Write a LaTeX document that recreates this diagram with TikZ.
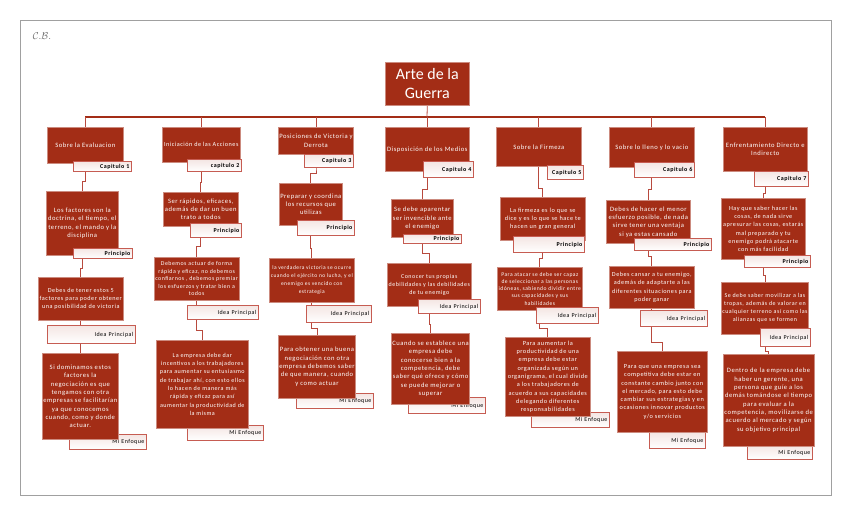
\documentclass[tikz,border=0pt]{standalone}
\usepackage{fontspec}
\setmainfont{Carlito}[LetterSpace=8]
\newfontfamily\titlefont{Carlito}
\usetikzlibrary{backgrounds}
\definecolor{brick}{RGB}{163,45,22}
\definecolor{tagred}{RGB}{198,92,82}
\definecolor{linkred}{RGB}{184,74,62}
\definecolor{framegray}{RGB}{160,160,160}
\begin{document}
\begin{tikzpicture}[x=1pt,y=-1pt,
  box/.style={anchor=north west, fill=brick, draw=brick!55!white, line width=0.6pt,
    text=white, align=center, inner sep=1pt, font=\fontsize{6.6}{8.3}\selectfont},
  tagbox/.style={anchor=north west, draw=tagred, line width=0.9pt,
    top color=brick!12!white, bottom color=white, align=right, inner sep=2pt,
    font=\bfseries\fontsize{6}{7}\selectfont},
  tagthin/.style={tagbox, font=\fontsize{6}{7}\selectfont},
  link/.style={draw=linkred, line width=0.8pt},
  bus/.style={draw=brick, line width=1.8pt}]
\useasboundingbox (0,0) rectangle (848,515);

% Frame
\draw[framegray, line width=0.8pt] (20,20) rectangle (831,495);
\node[text=framegray!70!black] (cb) at (42,36) {\fontsize{10}{10}\selectfont$\mathcal{C}.\mathcal{B}.$};

% Title
\node[box, minimum width=84pt, minimum height=43pt,
  font=\titlefont\fontsize{16}{19}\selectfont] (title) at (385,62) {Arte de la\\Guerra};

% Column 1
\node[box, minimum width=76pt, minimum height=36pt] (ch1) at (47,127) {Sobre la Evaluacion};
\node[tagbox, text width=54pt, minimum height=10pt] (cap1) at (73,161) {Capitulo 1};
\node[box, minimum width=72pt, minimum height=64pt] (pr1) at (46,191)
  {Los factores son la\\doctrina, el tiempo, el\\terreno, el mando y la\\disciplina};
\node[tagbox, text width=55pt, minimum height=10pt] (tp1) at (73,248) {Principio};
\node[box, minimum width=85pt, minimum height=43pt, font=\fontsize{6.2}{8.3}\selectfont] (ip1) at (38,277)
  {Debes de tener estos 5\\factores para poder obtener\\una posibilidad de victoria};
\node[tagthin, text width=84pt, minimum height=18pt] (ti1) at (47,325) {Idea Principal};
\node[tagthin, text width=73pt, minimum height=15pt] (tm1) at (69,434) {Mi Enfoque};
\node[box, minimum width=76pt, minimum height=86pt] (en1) at (42,353)
  {Si dominamos estos\\factores la\\negociación es que\\tengamos con otra\\empresas se facilitarían\\ya que conocemos\\cuando, como y donde\\actuar.};

% Column 2
\node[box, minimum width=78pt, minimum height=35pt, font=\fontsize{6.2}{8}\selectfont] (ch2) at (162,127) {Iniciación de las Acciones};
\node[tagbox, text width=50pt, minimum height=12pt] (cap2) at (187,159) {capitulo 2};
\node[box, minimum width=75pt, minimum height=34pt] (pr2) at (163,192)
  {Ser rápidos, eficaces,\\además de dar un buen\\trato a todos};
\node[tagbox, text width=47pt, minimum height=14pt] (tp2) at (190,223) {Principio};
\node[box, minimum width=84pt, minimum height=43pt, font=\fontsize{5.9}{7.5}\selectfont] (ip2) at (154,257)
  {Debemos actuar de forma\\rápida y eficaz, no debemos\\confiarnos , debemos premiar\\los esfuerzos y tratar bien a\\todos};
\node[tagthin, text width=67pt, minimum height=14pt] (ti2) at (187,305) {Idea Principal};
\node[tagthin, text width=72pt, minimum height=15pt] (tm2) at (187,425) {Mi Enfoque};
\node[box, minimum width=92pt, minimum height=88pt, font=\fontsize{6.1}{8.3}\selectfont] (en2) at (156,340)
  {La empresa debe dar\\incentivos a los trabajadores\\para aumentar su entusiasmo\\de trabajar ahí, con esto ellos\\lo hacen de manera más\\rápida y eficaz para así\\aumentar la productividad de\\la misma};

% Column 3
\node[box, minimum width=75pt, minimum height=27pt] (ch3) at (278,127) {Posiciones de Victoria y\\Derrota};
\node[tagbox, text width=45pt, minimum height=13pt] (cap3) at (304,154) {Capitulo 3};
\node[box, minimum width=60pt, minimum height=42pt] (pr3) at (279,183)
  {Preparar y coordina\\los recursos que\\utilizas};
\node[tagbox, text width=53pt, minimum height=15pt] (tp3) at (297,220) {Principio};
\node[box, minimum width=85pt, minimum height=44pt, font=\fontsize{5.5}{8}\selectfont] (ip3) at (269,258)
  {la verdadera victoria se ocurre\\cuando el ejército no lucha, y el\\enemigo es vencido con\\estrategia};
\node[tagthin, text width=61pt, minimum height=17pt] (ti3) at (306,305) {Idea Principal};
\node[tagthin, text width=73pt, minimum height=15pt] (tm3) at (296,393) {Mi Enfoque};
\node[box, minimum width=75pt, minimum height=63pt] (en3) at (278,335)
  {Para obtener una buena\\negociación con otra\\empresa debemos saber\\de que manera, cuando\\y como actuar};

% Column 4
\node[box, minimum width=84pt, minimum height=44pt] (ch4) at (385,127) {Disposición de los Medios};
\node[tagbox, text width=46pt, minimum height=16pt] (cap4) at (423,161) {Capitulo 4};
\node[box, minimum width=62pt, minimum height=38pt] (pr4) at (391,199)
  {Se debe aparentar\\ser invencible ante\\el enemigo};
\node[tagbox, text width=54pt, minimum height=9pt] (tp4) at (403,234) {Principio};
\node[box, minimum width=84pt, minimum height=43pt, font=\fontsize{6}{8}\selectfont] (ip4) at (387,263)
  {Conocer tus propias\\debilidades y las debilidades\\de tu enemigo};
\node[tagthin, text width=58pt, minimum height=14pt] (ti4) at (418,299) {Idea Principal};
\node[tagthin, text width=73pt, minimum height=16pt] (tm4) at (408,397) {Mi Enfoque};
\node[box, minimum width=76pt, minimum height=71pt] (en4) at (391,333)
  {Cuando se establece una\\empresa debe\\conocerse bien a la\\competencia, debe\\saber qué ofrece y cómo\\se puede mejorar o\\superar};

% Column 5
\node[box, minimum width=85pt, minimum height=39pt] (ch5) at (496,127) {Sobre la Firmeza};
\node[tagbox, text width=32pt, minimum height=14pt] (cap5) at (547,165) {Capitulo 5};
\node[box, minimum width=85pt, minimum height=43pt, font=\fontsize{6.3}{8.3}\selectfont] (pr5) at (500,197)
  {La firmeza es lo que se\\dice y es lo que se hace te\\hacen un gran general};
\node[tagbox, text width=67pt, minimum height=16pt] (tp5) at (513,236) {Principio};
\node[box, minimum width=85pt, minimum height=43pt, font=\fontsize{5.6}{7.2}\selectfont] (ip5) at (497,267)
  {Para atacar se debe ser capaz\\de seleccionar a las personas\\idóneas, sabiendo dividir entre\\sus capacidades y sus\\habilidades};
\node[tagthin, text width=58pt, minimum height=16pt] (ti5) at (536,307) {Idea Principal};
\node[tagthin, text width=74pt, minimum height=15pt] (tm5) at (531,412) {Mi Enfoque};
\node[box, minimum width=85pt, minimum height=79pt, font=\fontsize{6.3}{8.3}\selectfont] (en5) at (505,337)
  {Para aumentar la\\productividad de una\\empresa debe estar\\organizada según un\\organigrama, el cual divide\\a los trabajadores de\\acuerdo a sus capacidades\\delegando diferentes\\responsabilidades};

% Column 6
\node[box, minimum width=85pt, minimum height=40pt] (ch6) at (609,127) {Sobre lo lleno y lo vacio};
\node[tagbox, text width=56pt, minimum height=15pt] (cap6) at (634,162) {Capitulo 6};
\node[box, minimum width=84pt, minimum height=43pt] (pr6) at (606,200)
  {Debes de hacer el menor\\esfuerzo posible, de nada\\sirve tener una ventaja\\si ya estas cansado};
\node[tagbox, text width=73pt, minimum height=12pt] (tp6) at (634,238) {Principio};
\node[box, minimum width=85pt, minimum height=42pt, font=\fontsize{6.2}{8.3}\selectfont] (ip6) at (609,266)
  {Debes cansar a tu enemigo,\\además de adaptarte a las\\diferentes situaciones para\\poder ganar};
\node[tagthin, text width=63pt, minimum height=16pt] (ti6) at (640,310) {Idea Principal};
\node[tagthin, text width=52pt, minimum height=16pt] (tm6) at (649,432) {Mi Enfoque};
\node[box, minimum width=90pt, minimum height=81pt, font=\fontsize{6.3}{8.3}\selectfont] (en6) at (617,351)
  {Para que una empresa sea\\competitiva debe estar en\\constante cambio junto con\\el mercado, para esto debe\\cambiar sus estrategias y en\\ocasiones innovar productos\\y/o servicios};

% Column 7
\node[box, minimum width=84pt, minimum height=44pt] (ch7) at (723,127) {Enfrentamiento Directo e\\Indirecto};
\node[tagbox, text width=50pt, minimum height=15pt] (cap7) at (754,171) {Capitulo 7};
\node[box, minimum width=84pt, minimum height=61pt, font=\fontsize{6.2}{8.3}\selectfont] (pr7) at (721,198)
  {Hay que saber hacer las\\cosas, de nada sirve\\apresurar las cosas, estarás\\mal preparado y tu\\enemigo podrá atacarte\\con más facilidad};
\node[tagbox, text width=62pt, minimum height=12pt] (tp7) at (744,255) {Principio};
\node[box, minimum width=86pt, minimum height=52pt, font=\fontsize{6}{8}\selectfont] (ip7) at (721,282)
  {Se debe saber movilizar a las\\tropas, además de valorar en\\cualquier terreno así como las\\alianzas que se formen};
\node[tagthin, text width=46pt, minimum height=18pt] (ti7) at (760,328) {Idea Principal};
\node[tagthin, text width=61pt, minimum height=14pt] (tm7) at (747,445) {Mi Enfoque};
\node[box, minimum width=89pt, minimum height=92pt] (en7) at (723,354)
  {Dentro de la empresa debe\\haber un gerente, una\\persona que guíe a los\\demás tomándose el tiempo\\para evaluar a la\\competencia, movilizarse de\\acuerdo al mercado y según\\su objetivo principal};

% Connectors
\begin{scope}[on background layer]
\coordinate (hub) at (427,117);
\draw[bus] (ch1.north |- hub) -- (ch7.north |- hub);
\draw[link] (title.south) -- (hub);
\foreach \n in {1,...,7}
  \draw[link] (ch\n.north |- hub) -- (ch\n.north);

\draw[link] (ch1.south) -- (ch1.south |- cap1.south) -- ++(0,9) -| (pr1.north);
\draw[link] (pr1.south) -- (pr1.south |- tp1.south) -- ++(0,9) -| (ip1.north);
\draw[link] (ip1.south) -- (ip1.south |- ti1.south) -- ++(0,5) -| (en1.north);

\draw[link] (ch2.south) -- (ch2.south |- cap2.south) -- ++(0,10) -| (pr2.north);
\draw[link] (pr2.south) -- (pr2.south |- tp2.south) -- ++(0,8) -| (ip2.north);
\draw[link] (ip2.south) -- (ip2.south |- ti2.south) -- ++(0,10) -| (en2.north);

\draw[link] (ch3.south) -- (ch3.south |- cap3.south) -- ++(0,5) -| (pr3.north);
\draw[link] (pr3.south) -- (pr3.south |- tp3.south) -- ++(0,12) -| (ip3.north);
\draw[link] (ip3.south) -- (ip3.south |- ti3.south) -- ++(0,5) -| (en3.north);

\draw[link] (ch4.south) -- (ch4.south |- cap4.south) -- ++(0,11) -| (pr4.north);
\draw[link] (pr4.south) -- (pr4.south |- tp4.south) -- ++(0,9) -| (ip4.north);
\draw[link] (ip4.south) -- (ip4.south |- ti4.south) -- ++(0,10) -| (en4.north);

\draw[link] (ch5.south) -- (ch5.south |- cap5.south) -- ++(0,8) -| (pr5.north);
\draw[link] (pr5.south) -- (pr5.south |- tp5.south) -- ++(0,5) -| (ip5.north);
\draw[link] (ip5.south) -- (ip5.south |- ti5.south) -- ++(0,4) -| (en5.north);

\draw[link] (ch6.south) -- (ch6.south |- cap6.south) -- ++(0,11) -| (pr6.north);
\draw[link] (pr6.south) -- (pr6.south |- tp6.south) -- ++(0,5) -| (ip6.north);
\draw[link] (ip6.south) -- (ip6.south |- ti6.south) -- ++(0,15) -| (en6.north);

\draw[link] (ch7.south) -- (ch7.south |- cap7.south) -- ++(0,6) -| (pr7.north);
\draw[link] (pr7.south) -- (pr7.south |- tp7.south) -- ++(0,7) -| (ip7.north);
\draw[link] (ip7.south) -- (ip7.south |- ti7.south) -- ++(0,4) -| (en7.north);
\end{scope}
\end{tikzpicture}
\end{document}
